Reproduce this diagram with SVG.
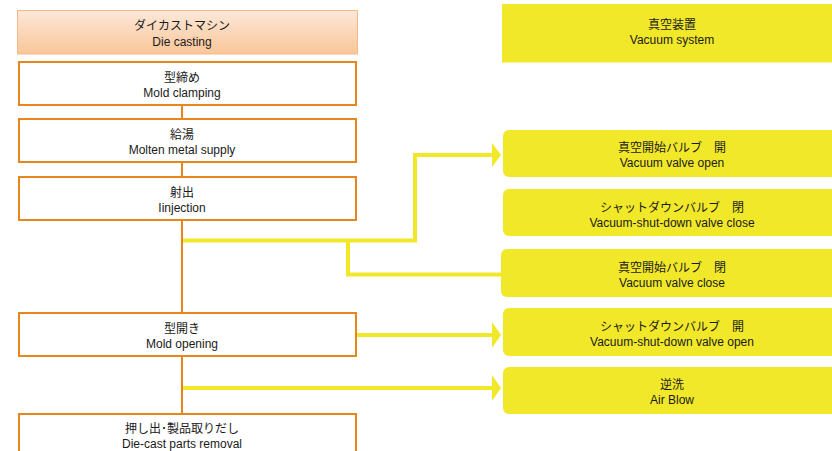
<svg xmlns="http://www.w3.org/2000/svg" width="832" height="451" viewBox="0 0 832 451">
<defs>
<linearGradient id="hg" x1="0" y1="0" x2="0" y2="1">
<stop offset="0" stop-color="#fde8da"/>
<stop offset="1" stop-color="#f9c698"/>
</linearGradient>
<style>
text{font-family:"Liberation Sans","Noto Sans CJK JP",sans-serif;font-size:12px;fill:#1a1a1a;text-anchor:middle}
.step{fill:#fff;stroke:#e8861e;stroke-width:2}
.yb{fill:#f2e82a}
.oc{stroke:#e8861e;stroke-width:2;fill:none}
.yc{stroke:#f2e82a;stroke-width:4;fill:none}
.ah{fill:#f2e82a}
</style>
</defs>
<rect width="832" height="451" fill="#fff"/>
<g id="connectors">
<line class="oc" x1="182" y1="105" x2="182" y2="118"/>
<line class="oc" x1="182" y1="162" x2="182" y2="177"/>
<line class="oc" x1="182" y1="220" x2="182" y2="312"/>
<line class="oc" x1="182" y1="356" x2="182" y2="413"/>
<polyline class="yc" points="183,240.5 415,240.5 415,155 493,155"/>
<polygon class="ah" points="492,143 501,155 492,167"/>
<polyline class="yc" points="348,240.5 348,274.5 503,274.5"/>
<line class="yc" x1="357" y1="335" x2="493" y2="335"/>
<polygon class="ah" points="492,322 501,335 492,348"/>
<line class="yc" x1="183" y1="388" x2="493" y2="388"/>
<polygon class="ah" points="492,375 501,388 492,401"/>
</g>
<g id="die-casting">
<rect x="17.5" y="10.5" width="340" height="43.5" fill="url(#hg)" stroke="#f6b888" stroke-width="1"/>
<text x="182" y="30">ダイカストマシン</text>
<text x="182" y="46">Die casting</text>
</g>
<g id="mold-clamping">
<rect class="step" x="19" y="62" width="337" height="43"/>
<text x="182" y="82">型締め</text>
<text x="182" y="97">Mold clamping</text>
</g>
<g id="molten-metal">
<rect class="step" x="19" y="119" width="337" height="43"/>
<text x="182" y="139">給湯</text>
<text x="182" y="154">Molten metal supply</text>
</g>
<g id="injection">
<rect class="step" x="19" y="177" width="337" height="43"/>
<text x="182" y="197">射出</text>
<text x="182" y="212">Iinjection</text>
</g>
<g id="mold-opening">
<rect class="step" x="19" y="313" width="337" height="43"/>
<text x="182" y="333">型開き</text>
<text x="182" y="348">Mold opening</text>
</g>
<g id="removal">
<rect class="step" x="19" y="414" width="337" height="45"/>
<text x="182" y="433">押し出･製品取りだし</text>
<text x="182" y="448">Die-cast parts removal</text>
</g>
<g id="vacuum-system">
<rect class="yb" x="502" y="4" width="340" height="58.5"/>
<text x="672" y="29">真空装置</text>
<text x="672" y="44">Vacuum system</text>
</g>
<g id="valve-open">
<rect class="yb" x="503" y="130" width="340" height="47" rx="6"/>
<text x="672" y="152">真空開始バルブ　開</text>
<text x="672" y="167">Vacuum valve open</text>
</g>
<g id="shutdown-close">
<rect class="yb" x="503" y="189" width="340" height="47" rx="6"/>
<text x="672" y="212">シャットダウンバルブ　閉</text>
<text x="672" y="227">Vacuum-shut-down valve close</text>
</g>
<g id="valve-close">
<rect class="yb" x="501" y="249" width="340" height="48" rx="6"/>
<text x="672" y="272">真空開始バルブ　閉</text>
<text x="672" y="287">Vacuum valve close</text>
</g>
<g id="shutdown-open">
<rect class="yb" x="503" y="308" width="340" height="48" rx="6"/>
<text x="672" y="331">シャットダウンバルブ　開</text>
<text x="672" y="346">Vacuum-shut-down valve open</text>
</g>
<g id="air-blow">
<rect class="yb" x="503" y="367" width="340" height="47" rx="6"/>
<text x="672" y="389">逆洗</text>
<text x="672" y="404">Air Blow</text>
</g>
</svg>
